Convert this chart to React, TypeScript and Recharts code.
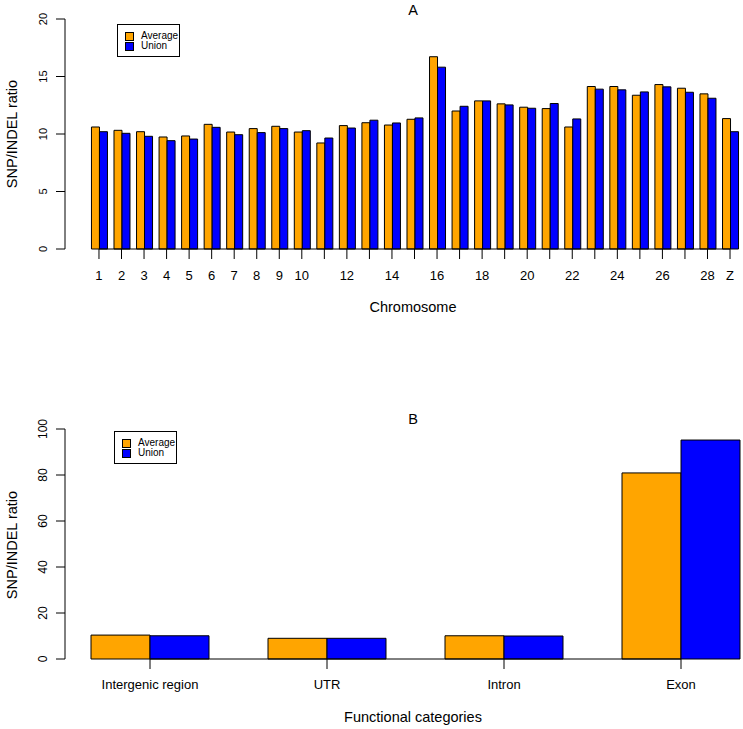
import { BarChart, Bar, XAxis, YAxis, Legend, ReferenceLine } from "recharts";

const chromosomes = [
  "1", "2", "3", "4", "5", "6", "7", "8", "9", "10",
  "11", "12", "13", "14", "15", "16", "17", "18", "19", "20",
  "21", "22", "23", "24", "25", "26", "27", "28", "Z",
];
const chromosomeAverage = [
  10.61, 10.32, 10.2, 9.74, 9.83, 10.84, 10.17, 10.47, 10.67, 10.17,
  9.22, 10.73, 10.98, 10.78, 11.28, 16.72, 12.0, 12.88, 12.62, 12.33,
  12.21, 10.61, 14.13, 14.13, 13.37, 14.3, 13.98, 13.49, 11.34,
];
const chromosomeUnion = [
  10.2, 10.06, 9.8, 9.42, 9.56, 10.58, 9.94, 10.12, 10.47, 10.29,
  9.65, 10.52, 11.2, 10.96, 11.4, 15.81, 12.41, 12.88, 12.53, 12.24,
  12.65, 11.31, 13.9, 13.84, 13.66, 14.1, 13.63, 13.11, 10.2,
];
const shownChromosomeTicks = [
  "1", "2", "3", "4", "5", "6", "7", "8", "9", "10",
  "12", "14", "16", "18", "20", "22", "24", "26", "28", "Z",
];
const chromosomeYTicks = [0, 5, 10, 15, 20];

const categories = ["Intergenic region", "UTR", "Intron", "Exon"];
const categoryAverage = [10.4, 9.0, 10.1, 80.9];
const categoryUnion = [10.1, 9.0, 10.0, 95.2];
const categoryYTicks = [0, 20, 40, 60, 80, 100];

const chromData = chromosomes.map((c, i) => ({
  name: c,
  Average: chromosomeAverage[i],
  Union: chromosomeUnion[i],
}));
const catData = categories.map((c, i) => ({
  name: c,
  Average: categoryAverage[i],
  Union: categoryUnion[i],
}));

const ORANGE = "#FFA500";
const BLUE = "#0000FF";
const FONT = "'Liberation Sans', Arial, sans-serif";

function LegendBox() {
  const row = (color: string, label: string) => (
    <div style={{ display: "flex", alignItems: "center", height: 10 }}>
      <span
        style={{
          display: "inline-block",
          width: 7,
          height: 7,
          background: color,
          border: "1px solid #000",
          marginRight: 7,
        }}
      />
      <span>{label}</span>
    </div>
  );
  return (
    <div
      style={{
        width: 63,
        height: 33,
        boxSizing: "border-box",
        border: "1px solid #000",
        background: "#fff",
        padding: "6px 0 0 7px",
        fontFamily: FONT,
        fontSize: 10,
        lineHeight: "10px",
        color: "#000",
      }}
    >
      {row(ORANGE, "Average")}
      {row(BLUE, "Union")}
    </div>
  );
}

// y tick labels run along the axis, like R's las=0
const yTickStyle = (size: number) => ({
  angle: -90,
  textAnchor: "middle",
  verticalAnchor: "middle",
  dx: -11,
  fontSize: size,
  fontFamily: FONT,
  fill: "#000",
});

function ChromTick(props: any) {
  const { x, y, payload } = props;
  if (!shownChromosomeTicks.includes(payload.value)) return <g />;
  return (
    <text x={x} y={y + 19} textAnchor="middle" fontSize={13} fontFamily={FONT} fill="#000">
      {payload.value}
    </text>
  );
}

function CatTick(props: any) {
  const { x, y, payload } = props;
  return (
    <text x={x} y={y + 18} textAnchor="middle" fontSize={13} fontFamily={FONT} fill="#000">
      {payload.value}
    </text>
  );
}

export default function App() {
  return (
    <div
      style={{
        position: "absolute",
        left: 0,
        top: 0,
        width: 743,
        height: 729,
        overflow: "hidden",
        background: "#fff",
      }}
    >
      <div style={{ position: "absolute", left: 0, top: 0 }}>
        <BarChart
          width={743}
          height={365}
          data={chromData}
          margin={{ top: 19, right: 0, bottom: 0, left: 0 }}
          barCategoryGap="16.667%"
          barGap={0}
        >
          <XAxis
            dataKey="name"
            interval={0}
            axisLine={false}
            tickSize={10}
            tickLine={{ stroke: "#000" }}
            tick={ChromTick}
            height={116}
            padding={{ left: 22.7, right: 1.7 }}
          />
          <YAxis
            domain={[0, 20]}
            ticks={chromosomeYTicks}
            width={65}
            tickSize={9}
            axisLine={{ stroke: "#000" }}
            tickLine={{ stroke: "#000" }}
            tick={yTickStyle(11)}
          />
          <ReferenceLine
            segment={[
              { x: "1", y: 0 },
              { x: "Z", y: 0 },
            ]}
            stroke="#000"
          />
          <Bar dataKey="Average" fill={ORANGE} stroke="#000" strokeWidth={1} isAnimationActive={false} />
          <Bar dataKey="Union" fill={BLUE} stroke="#000" strokeWidth={1} isAnimationActive={false} />
          <Legend
            layout="vertical"
            align="center"
            verticalAlign="middle"
            content={() => <LegendBox />}
            wrapperStyle={{ left: 117, top: 24, width: 63 }}
          />
          <text x={413} y={15} textAnchor="middle" fontSize={14.5} fontFamily={FONT}>A</text>
          <text x={413} y={312} textAnchor="middle" fontSize={14.5} fontFamily={FONT}>Chromosome</text>
          <text
            x={17}
            y={134}
            transform="rotate(-90, 17, 134)"
            textAnchor="middle"
            fontSize={14.5}
            fontFamily={FONT}
          >
            SNP/INDEL ratio
          </text>
        </BarChart>
      </div>
      <div style={{ position: "absolute", left: 0, top: 365 }}>
        <BarChart
          width={770}
          height={364}
          data={catData}
          margin={{ top: 64, right: 0.5, bottom: 0, left: 0 }}
          barCategoryGap="16.667%"
          barGap={0}
        >
          <XAxis
            dataKey="name"
            interval={0}
            axisLine={false}
            tickSize={10}
            tickLine={{ stroke: "#000" }}
            tick={CatTick}
            height={70}
            padding={{ left: -3.5, right: 0 }}
          />
          <YAxis
            domain={[0, 100]}
            ticks={categoryYTicks}
            width={65}
            tickSize={9}
            axisLine={{ stroke: "#000" }}
            tickLine={{ stroke: "#000" }}
            tick={yTickStyle(12)}
          />
          <ReferenceLine
            segment={[
              { x: "Intergenic region", y: 0 },
              { x: "Exon", y: 0 },
            ]}
            stroke="#000"
          />
          <Bar dataKey="Average" fill={ORANGE} stroke="#000" strokeWidth={1} isAnimationActive={false} />
          <Bar dataKey="Union" fill={BLUE} stroke="#000" strokeWidth={1} isAnimationActive={false} />
          <Legend
            layout="vertical"
            align="center"
            verticalAlign="middle"
            content={() => <LegendBox />}
            wrapperStyle={{ left: 114, top: 66, width: 63 }}
          />
          <text x={413} y={59} textAnchor="middle" fontSize={14.5} fontFamily={FONT}>B</text>
          <text x={413} y={357} textAnchor="middle" fontSize={14.5} fontFamily={FONT}>Functional categories</text>
          <text
            x={17}
            y={180}
            transform="rotate(-90, 17, 180)"
            textAnchor="middle"
            fontSize={14.5}
            fontFamily={FONT}
          >
            SNP/INDEL ratio
          </text>
        </BarChart>
      </div>
    </div>
  );
}
